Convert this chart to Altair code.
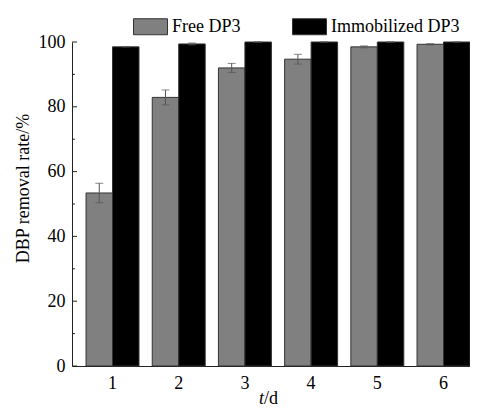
import altair as alt
import pandas as pd

days = ["1", "2", "3", "4", "5", "6"]
series = ["Free DP3", "Immobilized DP3"]
free_rate = [53.4, 82.9, 92.0, 94.7, 98.5, 99.3]
free_err = [3.0, 2.3, 1.4, 1.5, 0.3, 0.2]
immob_rate = [98.5, 99.4, 100.0, 100.0, 100.0, 100.0]
immob_err = [0.0, 0.3, 0.0, 0.0, 0.0, 0.0]
major_ticks = [0, 20, 40, 60, 80, 100]
minor_ticks = [10, 30, 50, 70, 90]
xtitle_parts = ["t", "/d"]

rows = []
for d, v, e in zip(days, free_rate, free_err):
    rows.append(dict(day=d, series=series[0], rate=v, lo=v - e, hi=v + e))
for d, v, e in zip(days, immob_rate, immob_err):
    rows.append(dict(day=d, series=series[1], rate=v, lo=v - e, hi=v + e))
df = pd.DataFrame(rows)

W, H = 398, 324
FONT = "'Liberation Serif', 'Times New Roman', 'DejaVu Serif', serif"

xenc = alt.X(
    "day:N",
    sort=days,
    scale=alt.Scale(paddingInner=0.2, paddingOuter=0.106, align=1.0),
    axis=alt.Axis(
        title=None, labelAngle=0, ticks=False, domainColor="#222",
        labelFont=FONT, labelFontSize=18, labelColor="black", labelPadding=8,
    ),
)
xoff = alt.XOffset("series:N", scale=alt.Scale(domain=series, paddingInner=0, paddingOuter=0))
yscale = alt.Scale(domain=[0, 100], nice=False)

bars = alt.Chart(df).mark_bar(stroke="#333", strokeWidth=1).encode(
    x=xenc,
    xOffset=xoff,
    y=alt.Y(
        "rate:Q",
        scale=yscale,
        axis=alt.Axis(
            title="DBP removal rate/%", values=major_ticks, ticks=False, tickSize=0,
            grid=False, domainColor="#222", labelFont=FONT, labelFontSize=18,
            labelColor="black", labelPadding=7, titleFont=FONT, titleFontSize=18,
            titleFontWeight="normal", titleColor="black", titleY=146, titlePadding=6,
        ),
    ),
    color=alt.Color(
        "series:N",
        scale=alt.Scale(domain=series, range=["#808080", "#000000"]),
        legend=alt.Legend(
            title=None, orient="none", legendX=61, legendY=-33, direction="horizontal",
            symbolType="M-1,-0.47H1V0.47H-1Z", symbolSize=1156, symbolStrokeColor="#333",
            symbolStrokeWidth=1, symbolOpacity=1, labelFont=FONT, labelFontSize=18,
            labelColor="black", labelOffset=4, columnPadding=49,
        ),
    ),
)

err_rule = alt.Chart(df).mark_rule(color="#555", strokeWidth=1).encode(
    x=alt.X("day:N", sort=days), xOffset=alt.XOffset("series:N"),
    y=alt.Y("lo:Q"), y2="hi:Q",
)
cap_lo = alt.Chart(df).mark_tick(color="#555", thickness=1, size=8, orient="horizontal").encode(
    x=alt.X("day:N", sort=days), xOffset=alt.XOffset("series:N"), y=alt.Y("lo:Q"),
)
cap_hi = alt.Chart(df).mark_tick(color="#555", thickness=1, size=8, orient="horizontal").encode(
    x=alt.X("day:N", sort=days), xOffset=alt.XOffset("series:N"), y=alt.Y("hi:Q"),
)

maj = alt.Chart(pd.DataFrame({"v": major_ticks})).mark_rule(color="#222").encode(
    y=alt.Y("v:Q"), x=alt.value(0), x2=alt.value(5)
)
mnr = alt.Chart(pd.DataFrame({"v": minor_ticks})).mark_rule(color="#222").encode(
    y=alt.Y("v:Q"), x=alt.value(0), x2=alt.value(3)
)

t_italic = alt.Chart(pd.DataFrame({"s": [xtitle_parts[0]]})).mark_text(
    font=FONT, fontSize=18, fontStyle="italic", align="right", baseline="alphabetic", color="black"
).encode(text="s:N", x=alt.value(192), y=alt.value(H + 38))
t_rest = alt.Chart(pd.DataFrame({"s": [xtitle_parts[1]]})).mark_text(
    font=FONT, fontSize=18, align="left", baseline="alphabetic", color="black"
).encode(text="s:N", x=alt.value(192), y=alt.value(H + 38))

chart = alt.layer(bars, err_rule, cap_lo, cap_hi, maj, mnr, t_italic, t_rest).properties(
    width=W, height=H,
    padding={"left": 64, "top": 34, "right": 0, "bottom": 42},
    autosize="none",
    background="white",
).configure_view(stroke=None)

chart.save("out.html", embed_options={"renderer": "svg", "actions": False})
